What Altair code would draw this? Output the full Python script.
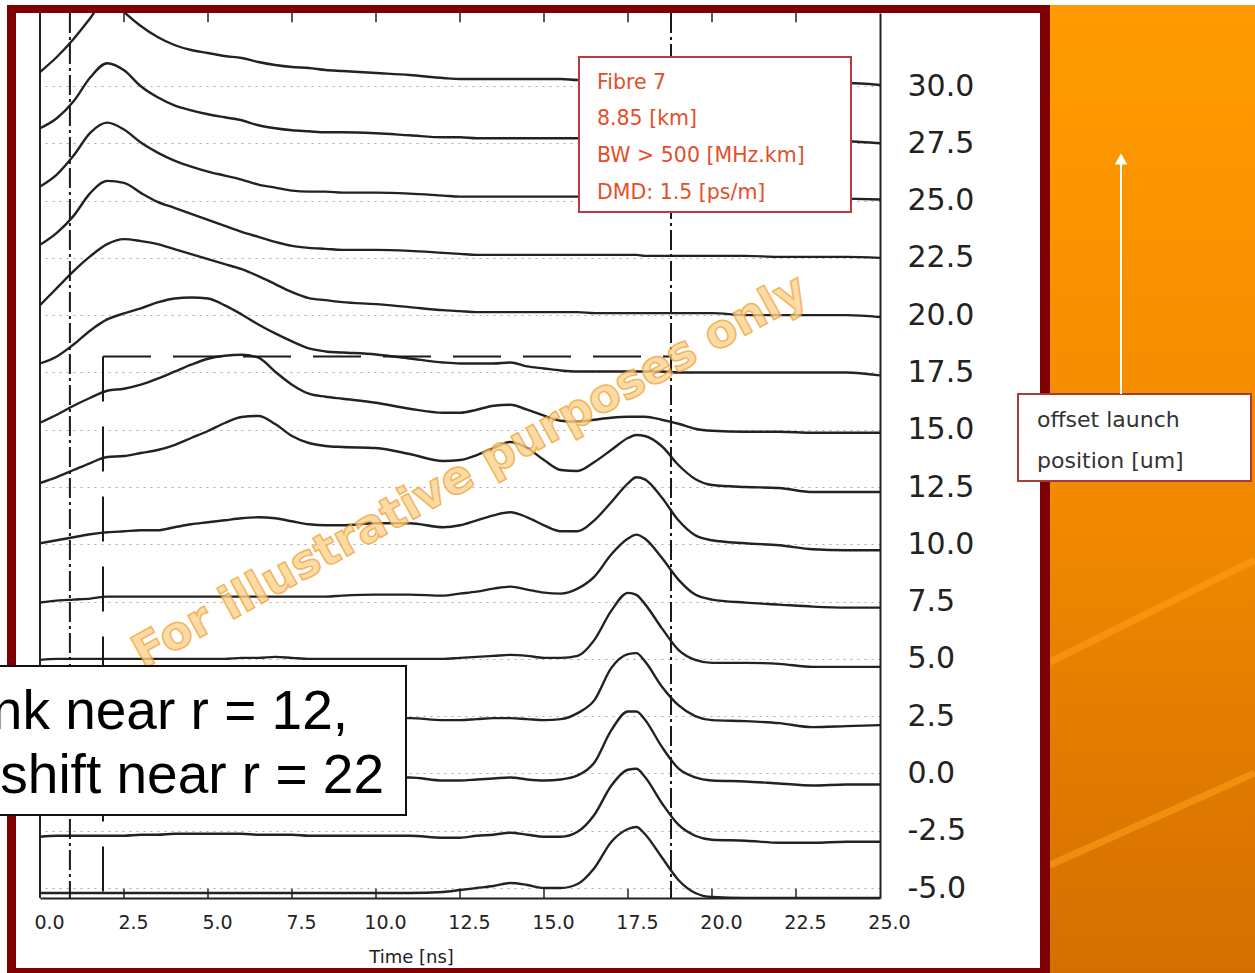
import altair as alt
import pandas as pd

# ---------------- data ----------------
offsets = [30, 27.5, 25, 22.5, 20, 17.5, 15, 12.5, 10, 7.5, 5, 2.5, 0, -2.5, -5]

time_ns = [0, 0.5, 1, 1.5, 2, 2.5, 3, 3.5, 4, 4.5, 5, 5.5, 6, 6.5, 7, 7.5, 8, 8.5, 9,
           10, 11, 12, 12.5, 13, 13.5, 14, 14.5, 15, 15.5, 16,
           16.5, 17, 17.5, 17.75, 18, 18.5, 19, 19.5, 20, 21, 22, 23, 24, 25]

# pulse amplitude (a.u.) above each trace's baseline
amp_30 = [14, 29, 47, 68, 90, 74, 60, 49, 41, 36, 33, 30, 28, 24, 21, 19, 18, 16, 15,
          13, 11, 8, 7, 7, 7, 7, 7, 7, 7, 6,
          6, 6, 5, 5, 5, 5, 5, 5, 4, 4, 4, 3, 3, 1]
amp_27_5 = [15, 25, 42, 66, 80, 73, 57, 46, 38, 33, 29, 26, 23, 18, 15, 13, 12, 11, 11,
            10, 8, 6, 6, 5, 5, 5, 5, 5, 5, 5,
            3, 3, 3, 3, 3, 3, 3, 3, 3, 3, 3, 3, 2, 0]
amp_25 = [14, 26, 45, 68, 78, 71, 58, 48, 40, 34, 29, 25, 21, 16, 13, 10, 9, 9, 8,
          8, 7, 5, 4, 4, 4, 4, 4, 4, 4, 4,
          3, 3, 3, 3, 3, 3, 3, 3, 3, 3, 3, 3, 2, 1]
amp_22_5 = [13, 25, 42, 65, 77, 75, 65, 56, 50, 44, 38, 32, 26, 21, 16, 12, 10, 9, 8,
            8, 7, 5, 4, 3, 3, 3, 3, 3, 3, 3,
            3, 3, 3, 3, 2, 2, 2, 2, 2, 2, 1, 1, 1, 0]
amp_20 = [10, 27, 44, 59, 71, 76, 74, 71, 66, 61, 56, 51, 46, 39, 31, 23, 17, 15, 13,
          11, 8, 5, 4, 3, 3, 3, 3, 3, 3, 3,
          2, 2, 2, 2, 2, 2, 2, 2, 2, 0, 0, 0, 0, -2]
amp_17_5 = [9, 16, 28, 42, 53, 59, 64, 70, 74, 75, 74, 67, 58, 48, 39, 31, 24, 21, 20,
            18, 14, 10, 9, 9, 9, 10, 6, 4, 2, 1,
            1, 1, 1, 1, 1, 1, 0, 0, 0, 0, 0, 0, 0, -3]
amp_15 = [7, 15, 24, 32, 39, 41, 45, 51, 58, 65, 71, 74, 75, 72, 58, 45, 36, 33, 31,
          27, 21, 17, 17, 20, 24, 25, 20, 14, 9, 8,
          10, 12, 13, 13, 13, 10, 6, 1, -1, -2, -2, -3, -3, -3]
amp_12_5 = [4, 10, 17, 24, 30, 31, 34, 37, 42, 49, 56, 64, 70, 71, 63, 51, 44, 41, 40,
            39, 33, 26, 27, 32, 39, 45, 39, 27, 17, 16,
            25, 37, 49, 52, 51, 41, 22, 8, 2, 0, -1, -5, -5, -5]
amp_10 = [1, 4, 7, 10, 12, 13, 14, 14, 17, 20, 22, 24, 26, 27, 26, 23, 20, 19, 19,
          21, 21, 17, 19, 24, 29, 32, 27, 19, 13, 13,
          24, 42, 61, 67, 65, 47, 24, 9, 4, 1, -1, -5, -6, -6]
amp_7_5 = [-1, 1, 2, 3, 5, 5, 5, 5, 5, 5, 5, 5, 5, 5, 5, 5, 5, 5, 6,
           7, 7, 6, 8, 10, 13, 15, 12, 9, 8, 13,
           25, 47, 63, 67, 63, 44, 22, 7, 2, -1, -3, -5, -6, -6]
amp_5 = [-1, 0, 0, 0, 0, 0, 0, 0, 0, 0, 0, 0, 1, 1, 2, 1, 0, 0, 0,
         0, 0, 0, 1, 2, 3, 4, 3, 1, 1, 3,
         19, 48, 66, 64, 55, 31, 9, -1, -4, -4, -5, -8, -8, -8]
amp_2_5 = [-2, -2, -2, -2, -2, -2, -2, -2, -2, -2, -2, -2, -2, -2, -2, -2, -2, -2, -2,
           -2, -2, -4, -4, -3, -2, -2, -3, -4, -3, 3,
           16, 48, 62, 63, 55, 30, 11, 0, -4, -5, -7, -11, -10, -9]
amp_0 = [-4, -4, -4, -4, -4, -4, -4, -4, -4, -4, -4, -4, -4, -4, -4, -4, -4, -4, -4,
         -4, -4, -7, -7, -6, -5, -4, -6, -7, -6, -2,
         11, 43, 62, 62, 54, 27, 5, -4, -7, -8, -10, -12, -11, -11]
amp_m2_5 = [-6, -5, -5, -5, -5, -5, -4, -4, -3, -3, -3, -3, -3, -4, -4, -4, -5, -5, -5,
            -5, -5, -7, -7, -5, -4, -2, -4, -6, -6, -1,
            16, 45, 61, 62, 54, 28, 6, -5, -9, -10, -12, -12, -11, -11]
amp_m5 = [-5, -5, -5, -5, -5, -5, -5, -5, -5, -5, -5, -5, -5, -5, -5, -5, -5, -5, -5,
          -5, -5, -4, -2, 0, 2, 5, 3, 0, 0, 4,
          20, 46, 59, 61, 54, 31, 8, -5, -9, -10, -10, -10, -10, -10]

amplitudes = [amp_30, amp_27_5, amp_25, amp_22_5, amp_20, amp_17_5, amp_15, amp_12_5,
              amp_10, amp_7_5, amp_5, amp_2_5, amp_0, amp_m2_5, amp_m5]

x_ticks = [0, 2.5, 5, 7.5, 10, 12.5, 15, 17.5, 20, 22.5, 25]
y_ticks = [-5, -2.5, 0, 2.5, 5, 7.5, 10, 12.5, 15, 17.5, 20, 22.5, 25, 27.5, 30]
inner_ticks = [2.5, 5, 7.5, 10, 12.5, 15, 17.5, 20, 22.5]

marker_t = [0.89, 18.78]          # dash-dot time markers [ns]
window_left_t = 1.875              # dashed window left edge [ns]
window_top_r = 18.2                # dashed window top [um]

fibre_lines = ["Fibre 7", "8.85 [km]", "BW > 500 [MHz.km]", "DMD: 1.5 [ps/m]"]
note_lines = ["nk near r = 12,", "shift near r = 22"]
legend_lines = ["offset launch", "position [um]"]
watermark = "For illustrative purposes only"

TRACE_GAIN = 1 / 22.914   # offset units per amplitude unit (display gain)

# ---------------- tables ----------------
rows = []
for r, amps in zip(offsets, amplitudes):
    assert len(amps) == len(time_ns)
    for t, a in zip(time_ns, amps):
        rows.append({"r": r, "t": t, "v": r + a * TRACE_GAIN})
traces = pd.DataFrame(rows)

W, H = 840, 885
Y_MIN, Y_MAX = -5.436, 33.186
TICK_LEN = 0.4   # inner tick length in offset units
xscale = alt.Scale(domain=[0, 25], nice=False, zero=False)
yscale = alt.Scale(domain=[Y_MIN, Y_MAX], nice=False, zero=False)
one = pd.DataFrame({"k": [0]})

FONT = "DejaVu Sans"

xaxis = alt.Axis(values=x_ticks, format=".1f", title="Time [ns]",
                 labelFont=FONT, labelFontSize=19, labelColor="#222",
                 labelPadding=15, labelOffset=9, ticks=False, grid=False,
                 domainColor="#222", domainWidth=2, labelFlush=False, labelOverlap=False,
                 titleFont=FONT, titleFontSize=18, titleFontWeight="normal",
                 titleColor="#222", titleX=371, titleY=64, titleBaseline="alphabetic")
yaxis = alt.Axis(orient="right", values=y_ticks, title=None,
                 labelExpr="datum.value < 0 ? '-' + format(-datum.value, '.1f') : format(datum.value, '.1f')",
                 labelFont=FONT, labelFontSize=30, labelColor="#222", labelPadding=27,
                 ticks=False, domainColor="#222", domainWidth=2,
                 grid=True, gridColor="#888", gridDash=[2, 5], gridWidth=1, gridOpacity=0.7,
                 labelFlush=False, labelOverlap=False)

# ---------------- slide decorations ----------------
orange = alt.Chart(one).mark_rect(
    color=alt.Gradient(gradient="linear",
                       stops=[alt.GradientStop(color="#FF9B00", offset=0),
                              alt.GradientStop(color="#F28A00", offset=0.5),
                              alt.GradientStop(color="#D46E00", offset=1)],
                       x1=0, x2=0, y1=0, y2=1)
).encode(x=alt.value(1010), x2=alt.value(1230), y=alt.value(-8), y2=alt.value(970))

streak1 = alt.Chart(one).mark_rule(color="#FFA21A", strokeWidth=7, opacity=0.55).encode(
    x=alt.value(1010), y=alt.value(649), x2=alt.value(1215), y2=alt.value(547))
streak2 = alt.Chart(one).mark_rule(color="#FFA21A", strokeWidth=7, opacity=0.55).encode(
    x=alt.value(1010), y=alt.value(852), x2=alt.value(1215), y2=alt.value(760))

RED = "#7E0000"
b_left = alt.Chart(one).mark_rect(color=RED).encode(
    x=alt.value(-33), x2=alt.value(-24), y=alt.value(-8), y2=alt.value(965))
b_top = alt.Chart(one).mark_rect(color=RED).encode(
    x=alt.value(-33), x2=alt.value(1010), y=alt.value(-8), y2=alt.value(0))
b_right = alt.Chart(one).mark_rect(color=RED).encode(
    x=alt.value(1000), x2=alt.value(1010), y=alt.value(-8), y2=alt.value(965))
b_bottom = alt.Chart(one).mark_rect(color=RED).encode(
    x=alt.value(-33), x2=alt.value(1010), y=alt.value(955), y2=alt.value(965))

# ---------------- plot furniture ----------------
left_frame = alt.Chart(one).mark_rule(color="#222", strokeWidth=2).encode(
    x=alt.value(0), y=alt.value(0), y2=alt.value(H))

ticks_df = pd.DataFrame({"t": inner_ticks})
ticks_df["b1"] = Y_MIN
ticks_df["b2"] = Y_MIN + TICK_LEN
ticks_df["u1"] = Y_MAX
ticks_df["u2"] = Y_MAX - TICK_LEN
ticks_bottom = alt.Chart(ticks_df).mark_rule(color="#222", strokeWidth=1.5).encode(
    x=alt.X("t:Q", scale=xscale, axis=xaxis),
    y=alt.Y("b1:Q", scale=yscale, axis=yaxis), y2="b2:Q")
ticks_top = alt.Chart(ticks_df).mark_rule(color="#222", strokeWidth=1.5).encode(
    x=alt.X("t:Q", scale=xscale, axis=xaxis),
    y=alt.Y("u1:Q", scale=yscale, axis=yaxis), y2="u2:Q")

markers = alt.Chart(pd.DataFrame({"t": marker_t})).mark_rule(
    color="#1a1a1a", strokeWidth=2, strokeDash=[20, 4, 3, 4]).encode(
    x=alt.X("t:Q", scale=xscale, axis=xaxis))

win_v = alt.Chart(pd.DataFrame({"t": [window_left_t], "v": [window_top_r], "v2": [Y_MIN]})).mark_rule(
    color="#1a1a1a", strokeWidth=2, strokeDash=[45, 25]).encode(
    x=alt.X("t:Q", scale=xscale, axis=xaxis),
    y=alt.Y("v:Q", scale=yscale, axis=yaxis), y2="v2:Q")
win_h = alt.Chart(pd.DataFrame({"t": [window_left_t], "t2": [marker_t[1]], "v": [window_top_r]})).mark_rule(
    color="#1a1a1a", strokeWidth=2, strokeDash=[48, 22]).encode(
    x=alt.X("t:Q", scale=xscale, axis=xaxis), x2="t2:Q",
    y=alt.Y("v:Q", scale=yscale, axis=yaxis))

lines = alt.Chart(traces).mark_line(
    clip=True, color="#222222", strokeWidth=2.4, interpolate="monotone").encode(
    x=alt.X("t:Q", scale=xscale, axis=xaxis),
    y=alt.Y("v:Q", scale=yscale, axis=yaxis),
    detail="r:N")

wm = alt.Chart(one).mark_text(
    text=watermark, font=FONT, fontSize=46, fontWeight="bold",
    fill="#FCD48E", stroke="#F0A133", strokeWidth=1.5, opacity=0.8,
    angle=331, align="center", baseline="middle").encode(
    x=alt.value(430), y=alt.value(459))

# ---------------- annotation boxes ----------------
fibre_box = alt.Chart(one).mark_rect(fill="white", stroke="#B83C3C", strokeWidth=2).encode(
    x=alt.value(539), x2=alt.value(811), y=alt.value(44), y2=alt.value(199))
fibre_txt = [
    alt.Chart(one).mark_text(text=s, font=FONT, fontSize=20.5, color="#E2502A",
                             align="left", baseline="alphabetic").encode(
        x=alt.value(557), y=alt.value(yy))
    for s, yy in zip(fibre_lines, [76, 112, 149, 186])
]

note_box = alt.Chart(one).mark_rect(fill="white", stroke="#111", strokeWidth=2).encode(
    x=alt.value(-60), x2=alt.value(366), y=alt.value(653), y2=alt.value(802))
note_txt = [
    alt.Chart(one).mark_text(text=s, font="Liberation Sans", fontSize=55, color="#000",
                             align="right", baseline="alphabetic").encode(
        x=alt.value(xx), y=alt.value(yy))
    for s, xx, yy in zip(note_lines, [308, 344], [716, 780])
]

legend_box = alt.Chart(one).mark_rect(fill="white", stroke="#A83A3A", strokeWidth=2).encode(
    x=alt.value(978), x2=alt.value(1211), y=alt.value(381), y2=alt.value(468))
legend_txt = [
    alt.Chart(one).mark_text(text=s, font=FONT, fontSize=22, color="#333",
                             align="left", baseline="alphabetic").encode(
        x=alt.value(997), y=alt.value(yy))
    for s, yy in zip(legend_lines, [414, 455])
]
arrow_shaft = alt.Chart(one).mark_rule(color="white", strokeWidth=2).encode(
    x=alt.value(1081), y=alt.value(381), y2=alt.value(150))
arrow_head = alt.Chart(one).mark_point(shape="triangle-up", size=160, filled=True,
                                       color="white", opacity=1).encode(
    x=alt.value(1081), y=alt.value(146))

chart = alt.layer(
    orange, streak1, streak2, b_left, b_top, b_right, b_bottom,
    lines, left_frame, ticks_bottom, ticks_top, markers, win_v, win_h,
    wm, fibre_box, *fibre_txt, note_box, *note_txt,
    legend_box, *legend_txt, arrow_shaft, arrow_head
).properties(
    width=W, height=H,
    autosize=alt.AutoSizeParams(type="none"),
    padding={"left": 40, "top": 13, "right": 375, "bottom": 75},
).configure(background="white").configure_view(stroke=None)

chart.save("out.html", embed_options={"renderer": "svg", "actions": False})
